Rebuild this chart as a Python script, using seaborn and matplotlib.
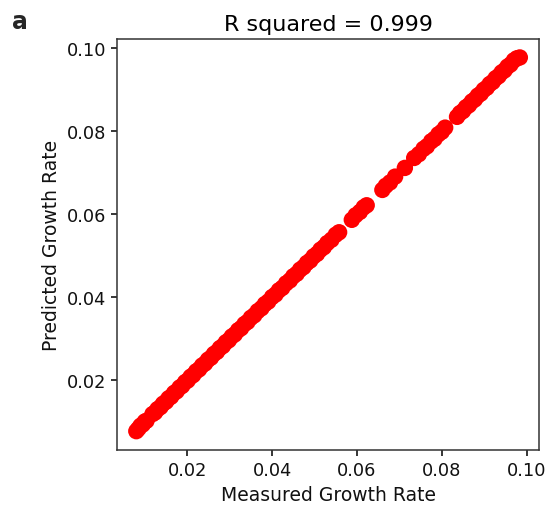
import matplotlib
matplotlib.use("Agg")
import matplotlib.pyplot as plt
import seaborn as sns
import pandas as pd

measured = [0.0080, 0.0085, 0.0090, 0.0095, 0.0100, 0.0104,
            0.0118, 0.0124, 0.0130, 0.0137, 0.0143, 0.0150, 0.0156, 0.0162, 0.0169, 0.0175,
            0.0182, 0.0188, 0.0195, 0.0201, 0.0208, 0.0214, 0.0221, 0.0228, 0.0235, 0.0242,
            0.0249, 0.0256, 0.0263, 0.0270, 0.0277, 0.0284, 0.0291, 0.0298, 0.0305, 0.0312,
            0.0320, 0.0327, 0.0335, 0.0342, 0.0350, 0.0358, 0.0366, 0.0375, 0.0383, 0.0391,
            0.0400, 0.0408, 0.0416, 0.0424, 0.0433, 0.0442, 0.0450, 0.0458, 0.0466, 0.0474,
            0.0482, 0.0490, 0.0498, 0.0506, 0.0514, 0.0522, 0.0530, 0.0540, 0.0550, 0.0558,
            0.0588, 0.0597, 0.0607, 0.0616, 0.0623,
            0.0660, 0.0668, 0.0678, 0.0690,
            0.0713,
            0.0735, 0.0746, 0.0757, 0.0765, 0.0775, 0.0783, 0.0792, 0.0800, 0.0808,
            0.0836, 0.0843, 0.0850, 0.0857, 0.0864, 0.0871, 0.0878, 0.0885, 0.0892, 0.0899,
            0.0906, 0.0913, 0.0920, 0.0927, 0.0934, 0.0941, 0.0948, 0.0955, 0.0962, 0.0970,
            0.0977, 0.0984]

predicted = [0.0078, 0.0084, 0.0091, 0.0094, 0.0101, 0.0103,
             0.0119, 0.0123, 0.0131, 0.0136, 0.0144, 0.0149, 0.0157, 0.0161, 0.0170, 0.0174,
             0.0183, 0.0187, 0.0196, 0.0200, 0.0209, 0.0213, 0.0222, 0.0227, 0.0236, 0.0241,
             0.0250, 0.0255, 0.0264, 0.0269, 0.0278, 0.0283, 0.0292, 0.0297, 0.0306, 0.0311,
             0.0321, 0.0326, 0.0336, 0.0341, 0.0351, 0.0357, 0.0367, 0.0374, 0.0384, 0.0390,
             0.0401, 0.0407, 0.0417, 0.0423, 0.0434, 0.0441, 0.0451, 0.0457, 0.0467, 0.0473,
             0.0483, 0.0489, 0.0499, 0.0505, 0.0515, 0.0521, 0.0531, 0.0539, 0.0551, 0.0557,
             0.0587, 0.0598, 0.0606, 0.0617, 0.0622,
             0.0659, 0.0669, 0.0677, 0.0691,
             0.0712,
             0.0736, 0.0745, 0.0758, 0.0764, 0.0776, 0.0782, 0.0793, 0.0799, 0.0809,
             0.0835, 0.0844, 0.0849, 0.0858, 0.0863, 0.0872, 0.0877, 0.0886, 0.0891, 0.0900,
             0.0905, 0.0914, 0.0919, 0.0928, 0.0933, 0.0942, 0.0947, 0.0956, 0.0961, 0.0971,
             0.0976, 0.0978]

df = pd.DataFrame({"Measured Growth Rate": measured, "Predicted Growth Rate": predicted})

sns.set_style("ticks")
plt.rcParams['font.family'] = ['DejaVu Sans']

fig = plt.figure(figsize=(5.5, 5.1), dpi=100)
ax = fig.add_axes([0.213, 0.116, 0.767, 0.806])
sns.scatterplot(data=df, x="Measured Growth Rate", y="Predicted Growth Rate",
                color="red", s=140, edgecolor="none", ax=ax)

ax.set_xticks([0.02, 0.04, 0.06, 0.08, 0.10])
ax.set_yticks([0.02, 0.04, 0.06, 0.08, 0.10])
ax.set_xticklabels(["0.02", "0.04", "0.06", "0.08", "0.10"])
ax.set_yticklabels(["0.02", "0.04", "0.06", "0.08", "0.10"])
ax.tick_params(labelsize=12.8, length=4.5, width=1.1, colors="black", labelcolor="#111111")
ax.set_xlabel("Measured Growth Rate", fontsize=13.5, color="#111111")
ax.set_ylabel("Predicted Growth Rate", fontsize=13.5, color="#111111")
ax.set_title("R squared = 0.999", fontsize=16, color="black", pad=6)
for sp in ax.spines.values():
    sp.set_visible(True)
    sp.set_linewidth(1.1)
    sp.set_color("#333333")
fig.text(0.022, 0.957, "a", fontsize=17, fontweight="bold", va="center", ha="left")

fig.savefig("out.png", dpi=100)
